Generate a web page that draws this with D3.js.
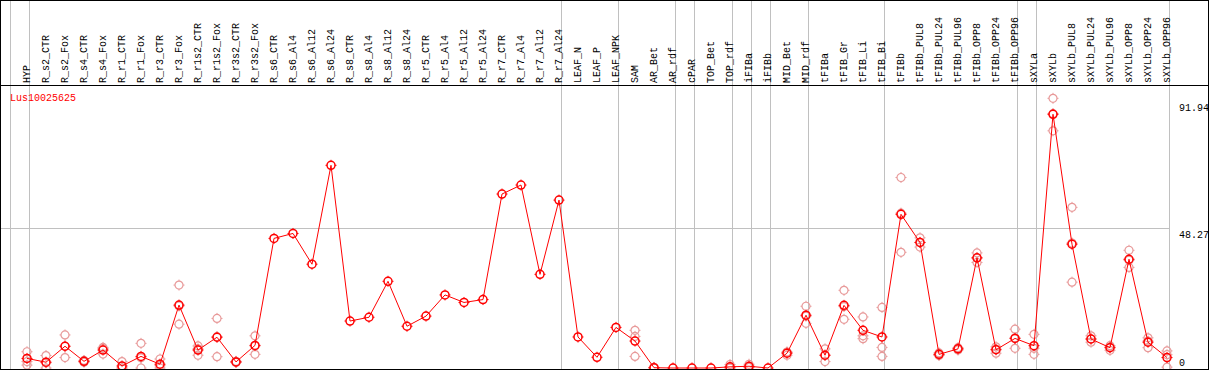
<!DOCTYPE html>
<html>
<head>
<meta charset="utf-8">
<script src="https://cdn.jsdelivr.net/npm/d3@7"></script>
<style>
  body { margin: 0; background: #fff; }
  text { font-family: "Liberation Mono", "DejaVu Sans Mono", monospace; font-size: 10px; }
</style>
</head>
<body>
<div id="chart"></div>
<script>
// sample names, in column order
const samples = [
  "HYP", "R_s2_CTR", "R_s2_Fox", "R_s4_CTR", "R_s4_Fox", "R_r1_CTR", "R_r1_Fox",
  "R_r3_CTR", "R_r3_Fox", "R_r1s2_CTR", "R_r1s2_Fox", "R_r3s2_CTR", "R_r3s2_Fox",
  "R_s6_CTR", "R_s6_Al4", "R_s6_Al12", "R_s6_Al24", "R_s8_CTR", "R_s8_Al4",
  "R_s8_Al12", "R_s8_Al24", "R_r5_CTR", "R_r5_Al4", "R_r5_Al12", "R_r5_Al24",
  "R_r7_CTR", "R_r7_Al4", "R_r7_Al12", "R_r7_Al24", "LEAF_N", "LEAF_P", "LEAF_NPK",
  "SAM", "AR_Bet", "AR_rdf", "cPAR", "TOP_Bet", "TOP_rdf", "iFIBa", "iFIBb",
  "MID_Bet", "MID_rdf", "tFIBa", "tFIB_Gr", "tFIB_Li", "tFIB_Bi", "tFIBb",
  "tFIBb_PUL8", "tFIBb_PUL24", "tFIBb_PUL96", "tFIBb_OPP8", "tFIBb_OPP24", "tFIBb_OPP96",
  "sXYLa", "sXYLb", "sXYLb_PUL8", "sXYLb_PUL24", "sXYLb_PUL96", "sXYLb_OPP8",
  "sXYLb_OPP24", "sXYLb_OPP96"
];

// mean expression per sample
const means = [
  3.3, 2.0, 7.5, 2.3, 6.2, 0.7, 4.0, 1.3, 21.7, 6.2, 10.6, 2.1, 7.8,
  44.7, 46.4, 35.8, 69.9, 16.2, 17.5, 29.9, 14.4, 17.9, 25.2, 22.6, 23.6,
  60.0, 63.1, 32.3, 57.9, 10.7, 3.7, 14.0,
  9.3, 0.1, 0, 0, 0, 0.4, 0.6, 0,
  5.1, 18.2, 4.4, 21.6, 13.0, 10.7, 53.0,
  43.3, 4.7, 6.6, 38.0, 6.3, 10.2,
  7.7, 87.5, 42.7, 10.0, 7.0, 37.5, 8.9, 3.6
];

// replicates (null = no replicate shown)
const rep1 = [
  5.6, 4.3, 11.4, 2.6, 7.1, 2.2, 8.5, 3.1, 28.6, 7.6, 17.1, 2.3, 11.1,
  null, null, null, null, null, null, null, null, null, null, null, null,
  null, null, null, null, null, null, null,
  13.0, 0.2, null, null, null, 1.2, 1.3, null,
  5.5, 21.3, 6.6, 26.8, 17.6, 20.9, 65.7,
  44.9, 5.2, 7.0, 39.7, 7.3, 13.4,
  11.6, 93.0, 55.4, 11.1, 7.7, 40.6, 10.4, 5.9
];
const rep2 = [
  2.2, 0.0, 3.6, 2.0, 4.8, 0.0, 0.0, 0.0, 15.1, 4.4, 3.9, 1.9, 4.7,
  null, null, null, null, null, null, null, null, null, null, null, null,
  null, null, null, null, null, null, null,
  4.0, 0.0, null, null, null, 0.0, 0.3, null,
  4.4, 15.4, 2.2, 16.8, 11.1, 7.1, 39.9,
  41.7, 4.3, 6.2, 36.4, 5.1, 6.8,
  4.7, 81.8, 29.6, 8.9, 6.1, 34.7, 7.0, 0.3
];
const rep3 = [
  1.0, 1.8, 7.5, 2.3, 6.7, 0.0, 3.5, 0.8, 21.4, 6.6, 10.8, 2.1, 7.6,
  null, null, null, null, null, null, null, null, null, null, null, null,
  null, null, null, null, null, null, null,
  10.9, 0.1, null, null, null, 0.0, 0.2, null,
  5.4, 17.9, 4.4, 21.2, 10.1, 4.0, 53.4,
  43.3, 4.6, 6.6, 37.9, 6.5, 10.4,
  6.8, 87.7, 43.1, 10.0, 7.2, 37.2, 9.3, 4.6
];

// first sample of each tissue group (vertical separators)
const groupStarts = ["HYP", "R_s2_CTR", "LEAF_N", "SAM", "cPAR", "TOP_Bet", "iFIBa",
  "iFIBb", "MID_Bet", "tFIBa", "tFIBb", "sXYLa", "sXYLb"];

const yTicks = [0, 48.27, 91.94];
const geneName = "Lus10025625";

const width = 1209, height = 370;
const headerY = 85, bottomY = 369;

const svg = d3.select("#chart").append("svg")
  .attr("width", width)
  .attr("height", height);

const x = d3.scaleBand().domain(samples).range([11, 1170]);
const px = (name) => x(name) + 16;
const y = d3.scaleLinear().domain([0, 91.94]).range([368, 101.4]);

// horizontal grid line (middle tick)
svg.append("line")
  .attr("x1", 0).attr("x2", 1170)
  .attr("y1", Math.round(y(48.27)) + 0.5).attr("y2", Math.round(y(48.27)) + 0.5)
  .attr("stroke", "#c0c0c0");

// group separators
const seps = groupStarts.map((s) => x(s)).concat([x.range()[1]]);
svg.selectAll("line.sep")
  .data(seps)
  .enter().append("line")
  .attr("class", "sep")
  .attr("x1", (d) => Math.round(d) - 0.5).attr("x2", (d) => Math.round(d) - 0.5)
  .attr("y1", 0).attr("y2", bottomY)
  .attr("stroke", "#c0c0c0");

// frame
svg.append("rect")
  .attr("x", 0.5).attr("y", 0.5)
  .attr("width", width - 1).attr("height", bottomY)
  .attr("fill", "none").attr("stroke", "#000");
svg.append("line")
  .attr("x1", 0).attr("x2", width)
  .attr("y1", headerY + 0.5).attr("y2", headerY + 0.5)
  .attr("stroke", "#000");

// sample labels
svg.selectAll("text.lab")
  .data(samples)
  .enter().append("text")
  .attr("class", "lab")
  .attr("transform", (d) => `translate(${px(d) + 2.5},83) rotate(-90)`)
  .text((d) => d);

// y labels
svg.selectAll("text.ytick")
  .data(yTicks)
  .enter().append("text")
  .attr("class", "ytick")
  .attr("x", 1179)
  .attr("y", (d) => (d === 0 ? y(d) - 2 : y(d) + 10))
  .text((d) => d);

svg.append("text")
  .attr("x", 10).attr("y", 101)
  .attr("fill", "#ff0000")
  .text(geneName);

// plot area clip
svg.append("clipPath").attr("id", "plotclip")
  .append("rect").attr("x", 1).attr("y", headerY + 1)
  .attr("width", width - 2).attr("height", bottomY - headerY - 1);
const plot = svg.append("g").attr("clip-path", "url(#plotclip)");

function marker(g, color, sw) {
  g.append("circle").attr("r", 4).attr("fill", "none")
    .attr("stroke", color).attr("stroke-width", sw);
  [[0, -4, 0, -5.5], [0, 4, 0, 5.5], [-4, 0, -5.5, 0], [4, 0, 5.5, 0]].forEach((l) => {
    g.append("line")
      .attr("x1", l[0]).attr("y1", l[1]).attr("x2", l[2]).attr("y2", l[3])
      .attr("stroke", color).attr("stroke-width", 1);
  });
}

// replicates
const reps = [];
samples.forEach((s, i) => {
  [rep1, rep2, rep3].forEach((r) => {
    if (r[i] !== null) reps.push({ s: s, v: r[i] });
  });
});
plot.selectAll("g.rep")
  .data(reps)
  .enter().append("g")
  .attr("class", "rep")
  .attr("transform", (d) => `translate(${px(d.s)},${y(d.v)})`)
  .each(function () { marker(d3.select(this), "#e89a9a", 1.2); });

// mean line
const line = d3.line()
  .x((d, i) => px(samples[i]))
  .y((d) => y(d));
plot.append("path")
  .datum(means)
  .attr("d", line)
  .attr("fill", "none")
  .attr("stroke", "#ff0000")
  .attr("stroke-width", 1);

plot.selectAll("g.mean")
  .data(means)
  .enter().append("g")
  .attr("class", "mean")
  .attr("transform", (d, i) => `translate(${px(samples[i])},${y(d)})`)
  .each(function () { marker(d3.select(this), "#ff0000", 1.5); });
</script>
</body>
</html>
